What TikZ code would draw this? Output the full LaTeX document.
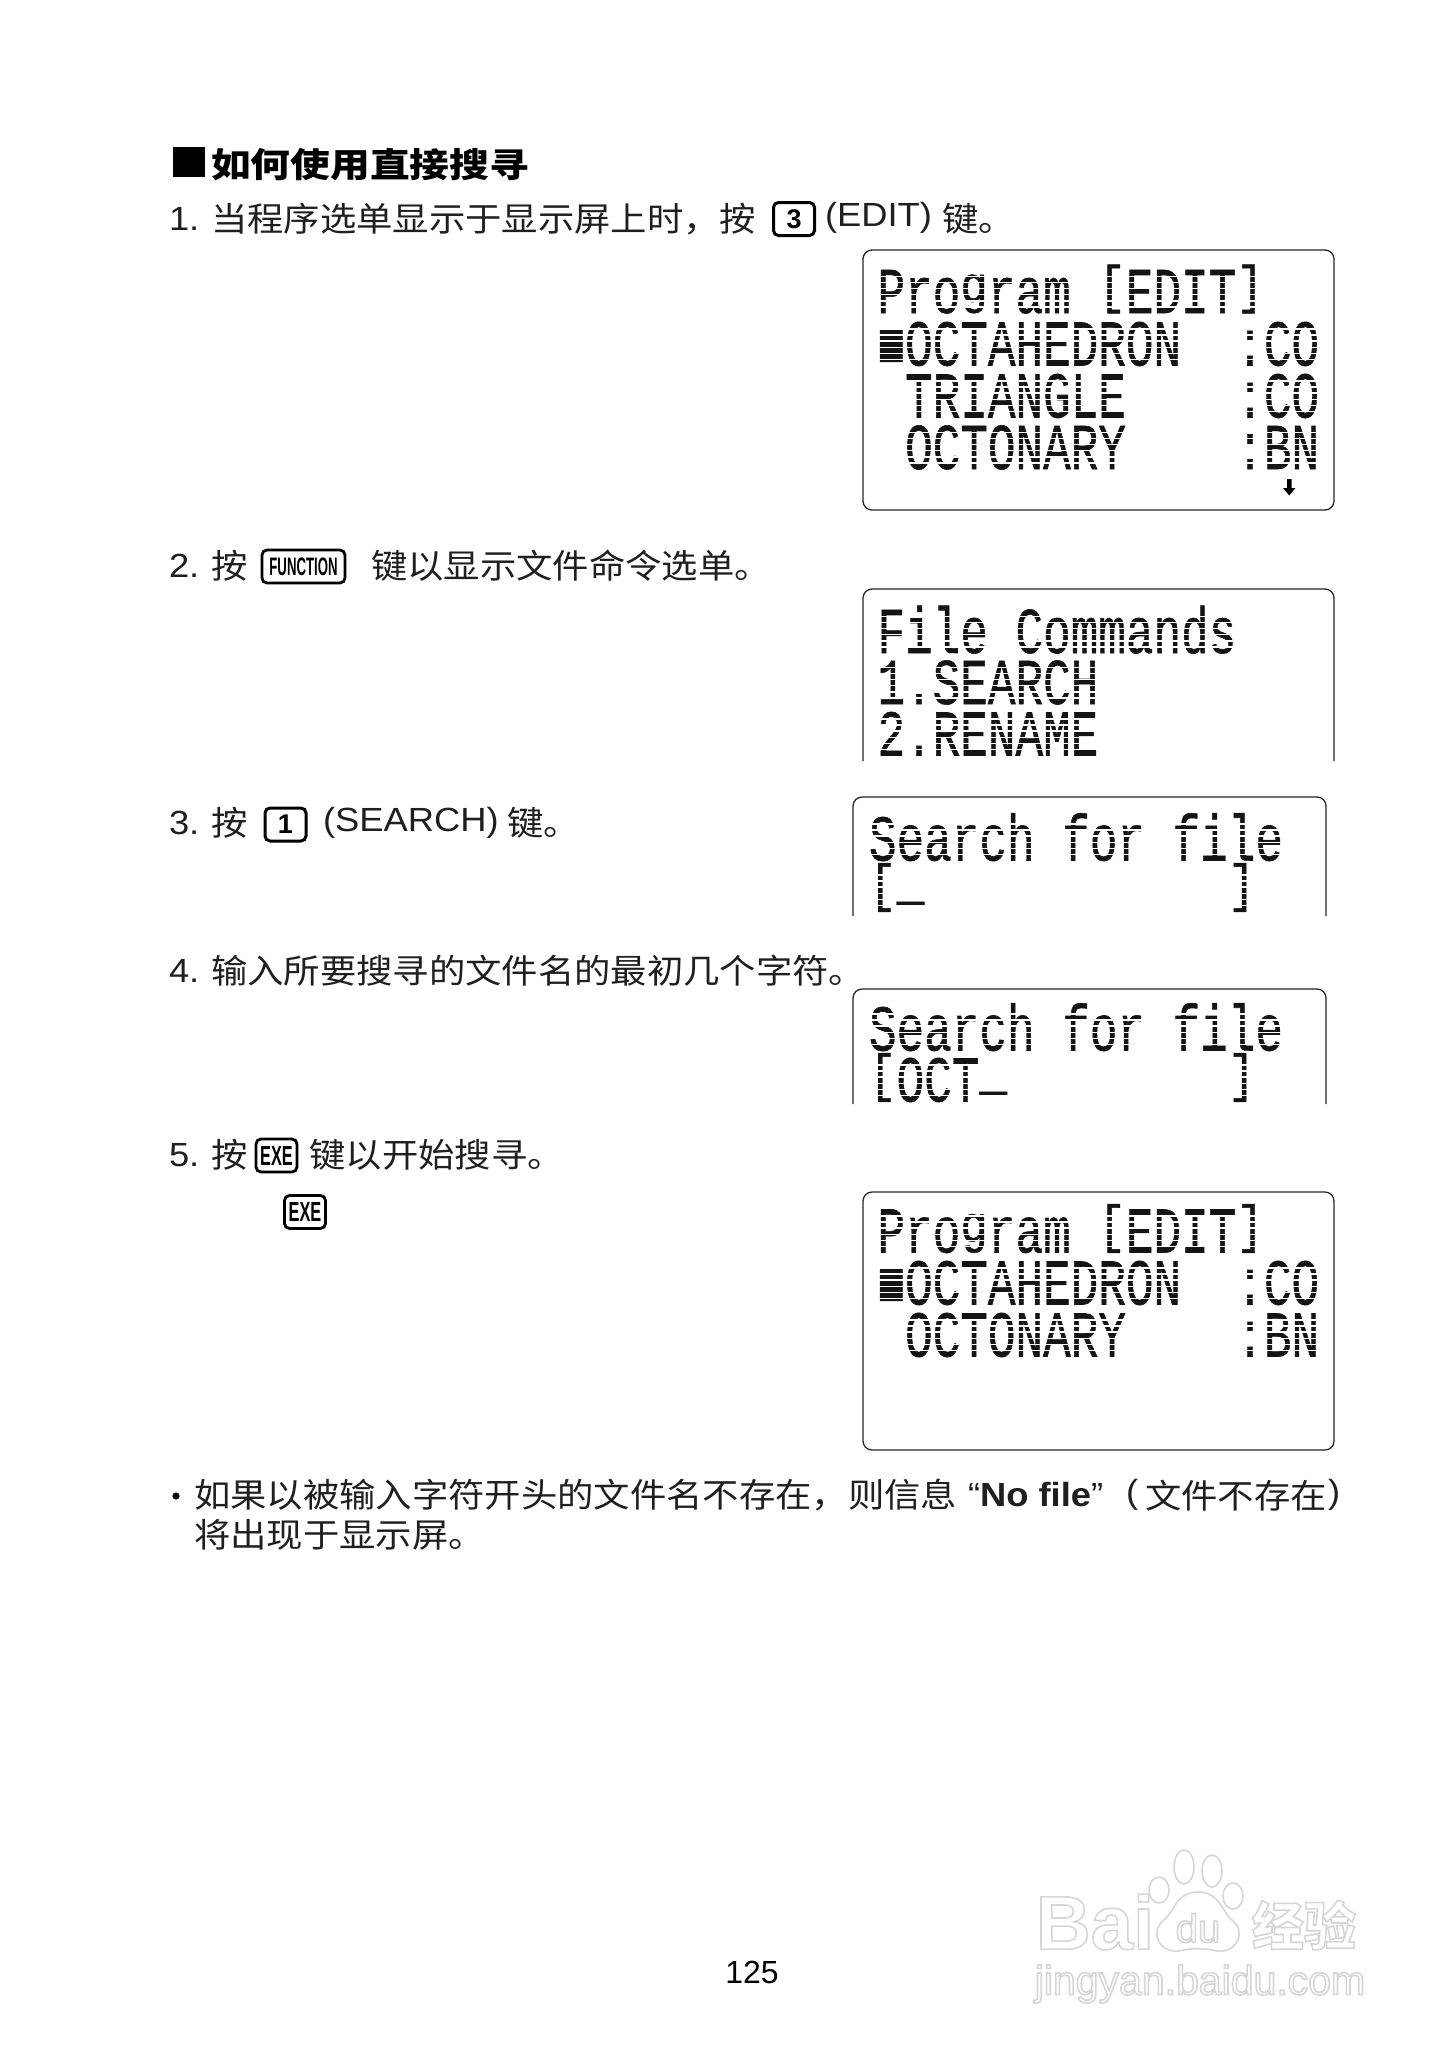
\documentclass[tikz,border=0pt]{standalone}
\usepackage{fontspec}
\setmainfont{Liberation Sans}
\newfontfamily\cjk{Noto Sans CJK SC}
\newfontfamily\lcdf[FakeBold=0.9]{Liberation Mono}
\newcommand{\outlined}{\special{pdf:code 1 Tr 1.6 w 0.84 G}}
% dot-matrix characters that stay inside the 5x7 cell
\newcommand{\inc}[1]{\raisebox{7.4pt}{\scalebox{1}[.8]{#1}}}
\newcommand{\cur}{\raisebox{9.5pt}{\_}}
\tikzset{
 body/.style={anchor=west,inner sep=0pt,outer sep=0pt,xscale=1.085,transform shape,font=\fontsize{33.5}{36}\selectfont\cjk,text=black!88},
 latin/.style={body,font=\fontsize{33.5}{36}\selectfont},
 ltitle/.style={anchor=west,inner sep=0pt,outer sep=0pt,xscale=1.17,transform shape,font=\fontsize{34}{36}\selectfont\cjk\bfseries},
 lcd/.style={anchor=base west,inner sep=0pt,outer sep=0pt,yscale=1.42,transform shape,font=\fontsize{46}{46}\selectfont\lcdf,text=black!92},
 keybox/.style={draw=black,line width=3pt,rounded corners=5pt,inner sep=0pt,anchor=center,font=\bfseries},
 screen/.style={draw=black!85,line width=1.3pt,rounded corners=9pt},
 wmark/.style={inner sep=0pt,anchor=center,text=white},
 wline/.style={draw=black!16,line width=1.6pt,fill=white},
 rowgap/.style={white,line width=1.4pt}
}
% a line of the display: text, then the gaps between its rows of dots
\newcommand{\lcdline}[4]{%
 \node[lcd] (#1) at (#2,#3) {#4};
 \foreach \k in {1,...,6} \draw[rowgap] (#2,{#3-\k*6.1}) -- ({#2+445},{#3-\k*6.1});
}
\begin{document}
\begin{tikzpicture}[x=1pt,y=-1pt]
\useasboundingbox[fill=white] (0,0) rectangle (1452,2064);
% heading
\fill[black] (173,147) rectangle (205,177);
\node[ltitle] (title) at (211,165) {如何使用直接搜寻};
% step 1
\node[latin] (n1) at (169,219) {1.};
\node[body] (s1a) at (211,219) {当程序选单显示于显示屏上时，按};
\node[keybox,minimum width=41pt,minimum height=33pt] (k3) at (794,219) {\fontsize{27}{28}\selectfont 3};
\node[latin] (s1b) at (825,218) {(EDIT)};
\node[body] (s1c) at (942,219) {键。};
\draw[screen] (863,510) rectangle (1334,250);
\lcdline{a1}{877.5}{313}{Pro\inc{g}ram~\inc{[}EDIT\inc{]}}
\lcdline{a2}{877.5}{365.5}{■OCTAHEDRON~~:CO}
\lcdline{a3}{877.5}{417.5}{ ~TRIANGLE~~~~:CO}
\lcdline{a4}{877.5}{469}{ ~OCTONARY~~~~:BN}
\fill[black] (1287,479) rectangle (1291.5,488) -- (1295.5,488) -- (1289.2,495.5) -- (1283,488) -- (1287,488) -- cycle;
% step 2
\node[latin] (n2) at (169,566) {2.};
\node[body] (s2a) at (211,566) {按};
\node[keybox,line width=2.8pt,minimum width=83pt,minimum height=33pt] (kf) at (303.5,566.5) {\scalebox{.6}[1.15]{\fontsize{22}{24}\selectfont FUNCTION}};
\node[body] (s2b) at (371,566) {键以显示文件命令选单。};
\draw[screen] (863,761) -- (863,589) -- (1334,589) -- (1334,761);
\lcdline{b1}{877.5}{653}{File~Commands}
\lcdline{b2}{877.5}{704}{1.SEARCH}
\lcdline{b3}{877.5}{755.5}{2.RENAME}
% step 3
\node[latin] (n3) at (169,823) {3.};
\node[body] (s3a) at (211,823) {按};
\node[keybox,minimum width=41pt,minimum height=33pt] (k1) at (285.5,824.5) {\fontsize{27}{28}\selectfont 1};
\node[latin] (s3b) at (323,823) {(SEARCH)};
\node[body] (s3c) at (507,823) {键。};
\draw[screen] (853,916) -- (853,797) -- (1326,797) -- (1326,916);
\lcdline{c1}{869}{860.5}{Search~for~file}
\lcdline{c2}{869}{911.5}{\inc{[}\cur~~~~~~~~~~~\inc{]}}
% step 4
\node[latin] (n4) at (169,971) {4.};
\node[body] (s4a) at (211,971) {输入所要搜寻的文件名的最初几个字符。};
\draw[screen] (853,1104) -- (853,989) -- (1326,989) -- (1326,1104);
\lcdline{d1}{869}{1050.5}{Search~for~file}
\lcdline{d2}{869}{1101.5}{\inc{[}OCT\cur~~~~~~~~\inc{]}}
% step 5
\node[latin] (n5) at (169,1155) {5.};
\node[body] (s5a) at (211,1155) {按};
\node[keybox,line width=2.8pt,minimum width=41pt,minimum height=33pt] (ke1) at (276.5,1155.5) {\scalebox{.68}[1.15]{\fontsize{24}{26}\selectfont EXE}};
\node[body] (s5b) at (309.5,1155) {键以开始搜寻。};
\node[keybox,line width=2.8pt,minimum width=41pt,minimum height=33pt] (ke2) at (305,1212) {\scalebox{.68}[1.15]{\fontsize{24}{26}\selectfont EXE}};
\draw[screen] (863,1450) rectangle (1334,1192);
\lcdline{e1}{877.5}{1252.5}{Pro\inc{g}ram~\inc{[}EDIT\inc{]}}
\lcdline{e2}{877.5}{1304.5}{■OCTAHEDRON~~:CO}
\lcdline{e3}{877.5}{1356.5}{ ~OCTONARY~~~~:BN}
% note
\fill[black] (176,1496) circle (3.6);
\node[body] (t1) at (194,1495.5) {如果以被输入字符开头的文件名不存在，则信息};
\node[latin] (t2) at (968,1495) {“\textbf{No file}”};
\node[latin] (t3) at (1126,1495) {(};
\node[body] (t4) at (1145,1495.5) {文件不存在};
\node[latin] (t5) at (1328,1495) {)};
\node[body] (t6) at (194,1535) {将出现于显示屏。};
% page number
\node[inner sep=0pt,font=\fontsize{32}{34}\selectfont,anchor=center] (page) at (752,1972) {125};
% watermark
\node[wmark,font=\fontsize{76}{78}\selectfont\bfseries] (wb) at (1095,1922) {\outlined Bai};
\draw[wline] (1159,1890) ellipse (10 and 13);
\draw[wline] (1184,1867) ellipse (10 and 17);
\draw[wline] (1212,1871) ellipse (10 and 16);
\draw[wline] (1233,1896) ellipse (10 and 13);
\draw[wline] (1198,1892) .. controls (1176,1892) and (1174,1912) .. (1164,1920) .. controls (1149,1932) and (1159,1953) .. (1179,1951) .. controls (1189,1948) and (1207,1948) .. (1217,1951) .. controls (1237,1953) and (1247,1932) .. (1232,1920) .. controls (1222,1912) and (1220,1892) .. (1198,1892) -- cycle;
\node[wmark,font=\fontsize{40}{42}\selectfont] (wd) at (1198,1928) {\outlined du};
\node[wmark,font=\fontsize{52}{54}\selectfont\cjk\bfseries] (wj) at (1304,1925) {\outlined 经验};
\node[wmark,font=\fontsize{41}{43}\selectfont] (wu) at (1200,1984) {\outlined jingyan.baidu.com};
\end{tikzpicture}
\end{document}
